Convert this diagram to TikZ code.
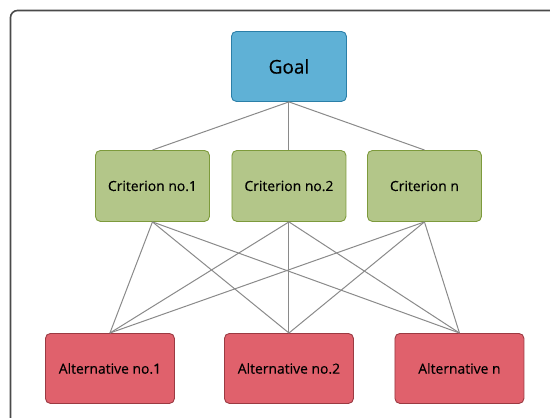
\documentclass[tikz,border=0pt]{standalone}
\usepackage{fontspec}
\setmainfont[FakeBold=0.35]{Open Sans}
\definecolor{goalfill}{HTML}{5FB1D6}
\definecolor{goaldraw}{HTML}{2B7FA8}
\definecolor{critfill}{HTML}{B3C689}
\definecolor{critdraw}{HTML}{7D9A3C}
\definecolor{altfill}{HTML}{E0616C}
\definecolor{altdraw}{HTML}{9B3A42}
\definecolor{linegray}{HTML}{8A8A8A}
\definecolor{framegray}{HTML}{4A4A4A}
\tikzset{
  box/.style={rectangle, rounded corners=5pt, line width=0.9pt, inner sep=0pt, anchor=north west},
  goalbox/.style={box, fill=goalfill, draw=goaldraw, minimum width=115pt, minimum height=70pt, font=\fontsize{19}{22}\selectfont},
  critbox/.style={box, fill=critfill, draw=critdraw, minimum width=114pt, minimum height=71pt, font=\fontsize{13.9}{16}\selectfont},
  altbox/.style={box, fill=altfill, draw=altdraw, minimum width=129pt, minimum height=70pt, font=\fontsize{13.9}{16}\selectfont},
  conn/.style={draw=linegray, line width=1pt}
}
\begin{document}
\begin{tikzpicture}[x=1pt,y=-1pt]
\useasboundingbox (0,0) rectangle (550,418);
\begin{scope}
\clip (0,0) rectangle (550,418);
\draw[framegray, line width=1.6pt, rounded corners=7pt] (10.5,10.5) rectangle (570,440);
\end{scope}
\node[goalbox] (goal) at (231,31) {Goal};
\node[critbox] (c1) at (95,150) {Criterion no.1};
\node[critbox] (c2) at (231.5,150) {Criterion no.2};
\node[critbox] (cn) at (367,150) {Criterion n};
\node[altbox] (a1) at (45,333) {Alternative no.1};
\node[altbox] (a2) at (224,333) {Alternative no.2};
\node[altbox] (an) at (394.5,333) {Alternative n};
\foreach \c in {c1,c2,cn}{
  \draw[conn] (goal.south) -- (\c.north);
  \foreach \a in {a1,a2,an}{
    \draw[conn] (\c.south) -- (\a.north);
  }
}
\end{tikzpicture}
\end{document}
